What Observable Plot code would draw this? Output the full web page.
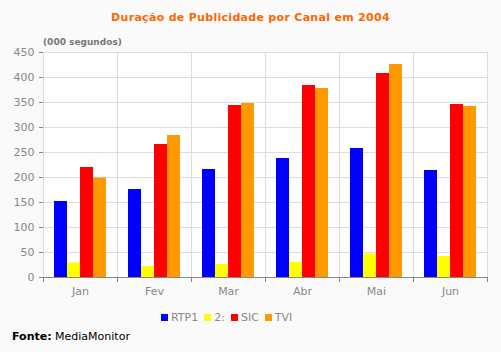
<!DOCTYPE html>
<html><head><meta charset="utf-8">
<script src="https://cdn.jsdelivr.net/npm/d3@7"></script>
<script src="https://cdn.jsdelivr.net/npm/@observablehq/plot@0.6"></script>
<style>
body{margin:0;background:#fafafa;width:501px;height:352px;position:relative;overflow:hidden;font-family:"DejaVu Sans",Verdana,sans-serif;}
#title{position:absolute;top:11px;left:0;width:501px;text-align:center;color:#ff6600;font-weight:bold;font-size:11px;letter-spacing:0.3px;}
#sub{position:absolute;top:37px;left:43px;color:#777;font-weight:bold;font-size:9px;}
#chart{position:absolute;top:0;left:0;}
#legend{position:absolute;top:311px;left:161px;display:flex;align-items:center;font-size:11px;color:#888;}
#legend .sw{display:inline-block;width:7px;height:7px;margin-right:3px;}
#legend .it{display:flex;align-items:center;margin-right:6px;}
#source{position:absolute;top:330px;left:12px;font-size:11px;color:#000;}
</style></head>
<body>
<div id="chart"></div>
<div id="title">Duração de Publicidade por Canal em 2004</div>
<div id="sub">(000 segundos)</div>
<div id="legend"></div>
<div id="source"><b>Fonte:</b> MediaMonitor</div>
<script>
const months = ["Jan","Fev","Mar","Abr","Mai","Jun"];
const series = ["RTP1","2:","SIC","TVI"];
const colors = ["#0000ff","#ffff00","#ff0000","#ff9900"];
const rtp1 = [152,176,216,238,258,214];
const rtp2 = [29,22,26,30,47,42];
const sic = [220,266,344,384,408,346];
const tvi = [199,284,348,378,426,342];
const yTicks = [0,50,100,150,200,250,300,350,400,450];

const values = [rtp1, rtp2, sic, tvi];
const table = months.flatMap((m,i)=>series.map((s,j)=>({month:m, series:s, value:values[j][i]})));

const chart = Plot.plot({
  width:501, height:305, marginTop:52, marginBottom:28, marginLeft:41, marginRight:12,
  style:{background:"transparent", fontFamily:"DejaVu Sans", fontSize:"11px", color:"#888"},
  facet:{data:table, x:"month"},
  fx:{domain:months, padding:0, label:null, tickSize:0, tickPadding:10, axis:"bottom"},
  x:{domain:series, paddingInner:0, paddingOuter:0.7, axis:null},
  y:{domain:[0,450], ticks:yTicks, tickSize:4, line:true, label:null},
  color:{domain:series, range:colors},
  marks:[
    Plot.frame({fill:"white", stroke:"#ddd"}),
    Plot.ruleY(yTicks, {stroke:"#ddd"}),
    Plot.barY(table, {x:"series", y:"value", fill:"series"}),
    Plot.ruleY([0], {stroke:"#888"}),
    Plot.frame({anchor:"left", stroke:"#888", insetTop:225, insetBottom:-4}),
    Plot.frame({anchor:"right", stroke:"#888", insetTop:225, insetBottom:-4})
  ]
});
document.getElementById("chart").appendChild(chart);

const lg = document.getElementById("legend");
series.forEach((s,i)=>{
  const it = document.createElement("span"); it.className="it";
  const sw = document.createElement("span"); sw.className="sw"; sw.style.background=colors[i];
  it.appendChild(sw); it.appendChild(document.createTextNode(s));
  lg.appendChild(it);
});
</script>
</body></html>
